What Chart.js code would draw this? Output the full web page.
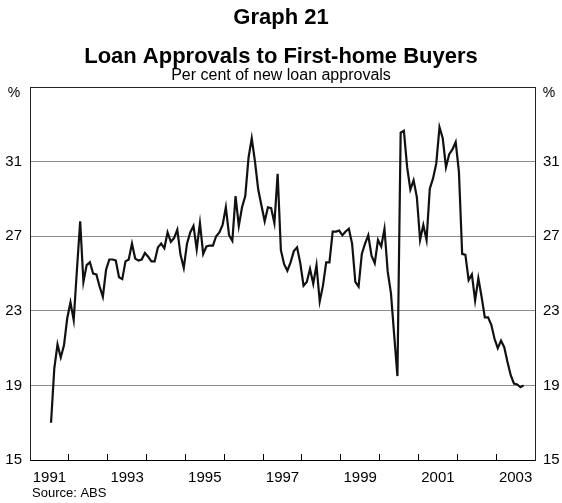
<!DOCTYPE html>
<html>
<head>
<meta charset="utf-8">
<script src="https://cdn.jsdelivr.net/npm/chart.js@4.4.1/dist/chart.umd.min.js"></script>
<style>
  html, body { margin: 0; padding: 0; background: #fff; }
  canvas { display: block; }
</style>
</head>
<body>
<canvas id="loanChart" width="562" height="503"></canvas>
<script>
const FONT = '"Liberation Sans", Arial, Helvetica, sans-serif';

// monthly, July 1991 to September 2003 (per cent of new loan approvals)
const startYear = 1991;
const startMonth = 7;
const firstHomeShare = [
  17.0, 19.9, 21.2, 20.5, 21.15, 22.6,
  23.45, 22.5, 25.2, 27.8, 24.55, 25.45, 25.6, 25.0, 24.95, 24.3, 23.75, 25.2,
  25.75, 25.75, 25.7, 24.8, 24.7, 25.65, 25.75, 26.6, 25.8, 25.7, 25.75, 26.1,
  25.9, 25.65, 25.65, 26.4, 26.6, 26.35, 27.2, 26.7, 26.9, 27.35, 26.0, 25.3,
  26.6, 27.2, 27.55, 26.3, 27.7, 26.05, 26.45, 26.5, 26.5, 27.0, 27.2, 27.6,
  28.55, 27.05, 26.75, 29.15, 27.55, 28.55, 29.15, 31.2, 32.25, 31.0, 29.5, 28.65,
  27.8, 28.55, 28.5, 27.7, 30.35, 26.25, 25.5, 25.15, 25.6, 26.2, 26.4, 25.55,
  24.35, 24.55, 25.25, 24.45, 25.45, 23.5, 24.35, 25.6, 25.6, 27.25, 27.25, 27.3,
  27.05, 27.25, 27.4, 26.6, 24.55, 24.3, 26.05, 26.6, 27.05, 25.95, 25.55, 26.8,
  26.45, 27.4, 25.1, 23.95, 21.7, 19.5, 32.55, 32.65, 30.7, 29.5, 30.0, 29.1,
  26.8, 27.6, 26.8, 29.55, 30.1, 30.9, 32.85, 32.25, 30.7, 31.4, 31.65, 32.05,
  30.45, 26.05, 26.0, 24.65, 24.95, 23.55, 24.75, 23.75, 22.65, 22.65, 22.25, 21.5,
  21.0, 21.4, 21.05, 20.25, 19.55, 19.1, 19.05, 18.9, 19.0
];

const yearBoundaries = [1992, 1993, 1994, 1995, 1996, 1997, 1998, 1999, 2000, 2001, 2002, 2003];
const yearLabels = [1991, 1993, 1995, 1997, 1999, 2001, 2003];
const percentTicks = [15, 19, 23, 27, 31, 35];

// each month sits in the middle of its slot on a year axis
const points = firstHomeShare.map((v, i) => ({
  x: startYear + (startMonth - 1 + i + 0.5) / 12,
  y: v
}));

const edgeLabels = {
  id: 'edgeLabels',
  afterDraw(chart) {
    const { ctx, chartArea } = chart;
    ctx.save();
    ctx.fillStyle = '#000';
    ctx.textBaseline = 'middle';
    ctx.textAlign = 'center';
    ctx.font = '14px ' + FONT;
    ctx.fillText('%', chartArea.left - 16, chartArea.top + 6);
    ctx.fillText('%', chartArea.right + 14, chartArea.top + 6);
    ctx.textAlign = 'left';
    ctx.font = '13px ' + FONT;
    ctx.fillText('Source: ABS', 32, 493);
    ctx.restore();
  }
};

const yTicksSetup = scale => {
  scale.ticks = percentTicks.map(v => ({ value: v }));
};

new Chart(document.getElementById('loanChart'), {
  type: 'line',
  data: {
    datasets: [{
      data: points,
      borderColor: '#111',
      borderWidth: 2.2,
      pointRadius: 0,
      tension: 0,
      fill: false
    }]
  },
  options: {
    responsive: false,
    animation: false,
    layout: { padding: 0 },
    plugins: {
      legend: { display: false },
      tooltip: { enabled: false },
      title: {
        display: true,
        text: ['Graph 21', 'Loan Approvals to First-home Buyers'],
        color: '#000',
        font: { family: FONT, size: 22, weight: 'bold', lineHeight: '39px' },
        padding: { top: -1.5, bottom: -8.5 }
      },
      subtitle: {
        display: true,
        text: 'Per cent of new loan approvals',
        color: '#000',
        font: { family: FONT, size: 16, lineHeight: '16px' },
        padding: { top: 0, bottom: 3 }
      }
    },
    scales: {
      x: {
        type: 'linear',
        min: 1991,
        max: 2004,
        afterBuildTicks: scale => {
          scale.ticks = yearBoundaries.concat(yearLabels.map(y => y + 0.5))
            .sort((a, b) => a - b)
            .map(v => ({ value: v }));
        },
        afterFit: scale => { scale.height = 43; },
        ticks: {
          autoSkip: false,
          maxRotation: 0,
          padding: 15,
          color: '#000',
          font: { family: FONT, size: 15 },
          callback: v => (Number.isInteger(v) ? '' : String(v - 0.5))
        },
        grid: {
          drawOnChartArea: false,
          drawTicks: true,
          tickLength: -6,
          color: c => (c.tick && Number.isInteger(c.tick.value) ? '#000' : 'rgba(0,0,0,0)')
        },
        border: { display: true, color: '#000', width: 1 }
      },
      y: {
        position: 'left',
        min: 15,
        max: 35,
        afterBuildTicks: yTicksSetup,
        afterFit: scale => { scale.width = 30; },
        ticks: {
          padding: 8,
          color: '#000',
          font: { family: FONT, size: 15 },
          callback: v => (v === 35 ? '' : v)
        },
        grid: {
          drawTicks: false,
          color: c => (c.tick && (c.tick.value === 15 || c.tick.value === 35) ? '#222' : '#8c8c8c')
        },
        border: { display: true, color: '#222', width: 1 }
      },
      y2: {
        position: 'right',
        min: 15,
        max: 35,
        afterBuildTicks: yTicksSetup,
        afterFit: scale => { scale.width = 27; },
        ticks: {
          padding: 8,
          color: '#000',
          font: { family: FONT, size: 15 },
          callback: v => (v === 35 ? '' : v)
        },
        grid: { display: false, drawTicks: false },
        border: { display: true, color: '#222', width: 1 }
      }
    }
  },
  plugins: [edgeLabels]
});
</script>
</body>
</html>
